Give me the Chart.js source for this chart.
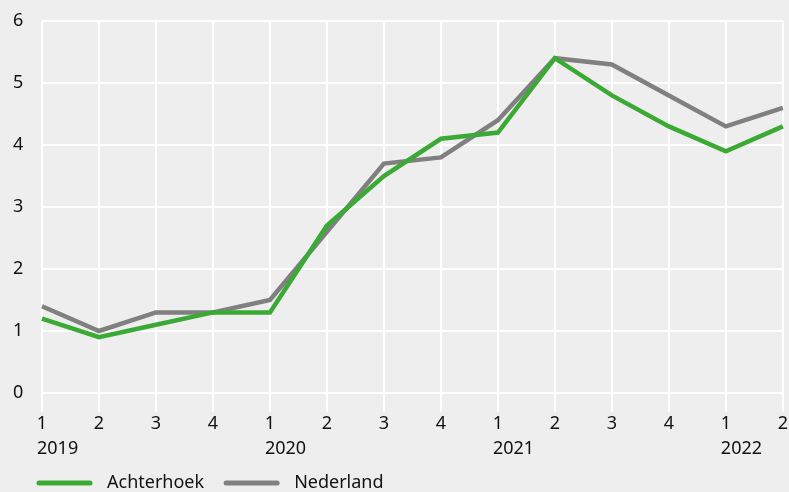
<!DOCTYPE html>
<html>
<head>
<meta charset="utf-8">
<script src="https://cdn.jsdelivr.net/npm/chart.js@4/dist/chart.umd.min.js"></script>
<style>
html,body{margin:0;padding:0;background:#eeeeee;}
#wrap{width:789px;height:492px;position:relative;}
</style>
</head>
<body>
<div id="wrap"><canvas id="c" width="789" height="492"></canvas></div>
<script>
const quarters = ['1','2','3','4','1','2','3','4','1','2','3','4','1','2'];
const yearLabels = ['2019','','','','2020','','','','2021','','','','2022',''];
const achterhoek = [1.2, 0.9, 1.1, 1.3, 1.3, 2.7, 3.5, 4.1, 4.2, 5.4, 4.8, 4.3, 3.9, 4.3];
const nederland = [1.4, 1.0, 1.3, 1.3, 1.5, 2.6, 3.7, 3.8, 4.4, 5.4, 5.3, 4.8, 4.3, 4.6];
const seriesNames = ['Achterhoek', 'Nederland'];
const seriesColors = ['#3aaa35', '#808080'];
const yTicks = [0, 1, 2, 3, 4, 5, 6];

const FONT = '"Noto Sans", sans-serif';
const TEXT = '#111111';

const extras = {
  id: 'extras',
  afterDraw(chart) {
    const ctx = chart.ctx;
    const x = chart.scales.x;
    ctx.save();
    ctx.fillStyle = TEXT;
    ctx.font = '18px ' + FONT;
    ctx.textBaseline = 'middle';
    ctx.textAlign = 'left';
    yearLabels.forEach((y, i) => {
      if (!y) return;
      ctx.fillText(y, x.getPixelForValue(i) - 5, 449);
    });
    // legend
    let lx = 37;
    const ly = 483;
    chart.data.datasets.forEach(ds => {
      ctx.strokeStyle = ds.borderColor;
      ctx.lineWidth = 5;
      ctx.lineCap = 'round';
      ctx.beginPath();
      ctx.moveTo(lx + 2, ly);
      ctx.lineTo(lx + 53, ly);
      ctx.stroke();
      lx += 70;
      ctx.fillStyle = TEXT;
      ctx.fillText(ds.label, lx, ly);
      lx += ctx.measureText(ds.label).width + 20;
    });
    ctx.restore();
  }
};

new Chart(document.getElementById('c'), {
  type: 'line',
  data: {
    labels: quarters,
    datasets: [
      { label: seriesNames[0], data: achterhoek, borderColor: seriesColors[0], backgroundColor: seriesColors[0], borderWidth: 4.5, pointRadius: 0, tension: 0, borderJoinStyle: 'miter' },
      { label: seriesNames[1], data: nederland, borderColor: seriesColors[1], backgroundColor: seriesColors[1], borderWidth: 4.5, pointRadius: 0, tension: 0, borderJoinStyle: 'miter' }
    ]
  },
  options: {
    responsive: false,
    animation: false,
    devicePixelRatio: 1,
    layout: { padding: { top: 21, right: 0, left: 13, bottom: 0 } },
    plugins: { legend: { display: false }, tooltip: { enabled: false } },
    scales: {
      x: {
        grid: { color: '#ffffff', lineWidth: 2, tickLength: 19, tickColor: '#ffffff', drawTicks: true },
        border: { display: false },
        ticks: { color: TEXT, font: { size: 18, family: FONT }, padding: 1, maxRotation: 0, autoSkip: false },
        afterFit(s) { s.height = 99; }
      },
      y: {
        min: 0, max: 6,
        afterBuildTicks(s) { s.ticks = yTicks.map(v => ({ value: v })); },
        grid: { color: '#ffffff', lineWidth: 2, drawTicks: false },
        border: { display: false },
        ticks: { color: TEXT, font: { size: 18, family: FONT }, padding: 0, crossAlign: 'far' },
        afterFit(s) { s.width = 29; }
      }
    }
  },
  plugins: [extras]
});
</script>
</body>
</html>
